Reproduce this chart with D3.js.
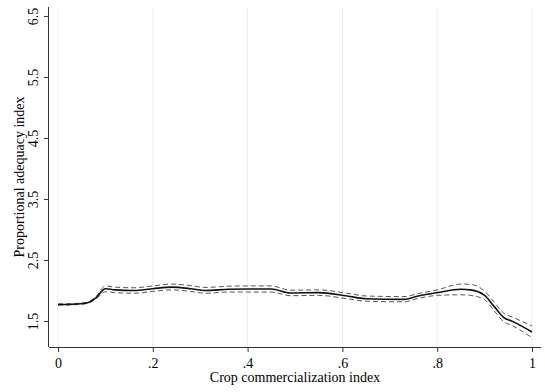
<!DOCTYPE html>
<html>
<head>
<meta charset="utf-8">
<script src="https://cdn.jsdelivr.net/npm/d3@7"></script>
<style>
  html, body { margin: 0; padding: 0; background: #fff; }
  svg { display: block; }
  text { font-family: "Liberation Serif", "Times New Roman", serif; fill: #000; }
</style>
</head>
<body>
<svg id="chart" width="545" height="392"></svg>
<script>
// Commercialization index (x) and fitted adequacy with 95% band
const commIndex = [0.00, 0.03, 0.06, 0.08, 0.10, 0.12, 0.16, 0.20, 0.24, 0.28, 0.31, 0.36, 0.40, 0.45, 0.49, 0.55, 0.61, 0.65, 0.73, 0.76, 0.80, 0.85, 0.87, 0.90, 0.92, 0.94, 0.96, 1.00];
const fitted    = [1.770, 1.775, 1.795, 1.880, 2.030, 2.010, 2.000, 2.030, 2.055, 2.030, 2.000, 2.020, 2.025, 2.025, 1.960, 1.965, 1.910, 1.866, 1.855, 1.910, 1.965, 2.020, 2.010, 1.920, 1.740, 1.560, 1.490, 1.320];
const lowerCI   = [1.760, 1.765, 1.785, 1.860, 1.980, 1.965, 1.955, 1.985, 2.010, 1.985, 1.955, 1.975, 1.975, 1.975, 1.915, 1.920, 1.865, 1.825, 1.815, 1.870, 1.920, 1.930, 1.920, 1.850, 1.670, 1.490, 1.420, 1.225];
const upperCI   = [1.780, 1.785, 1.805, 1.900, 2.075, 2.055, 2.045, 2.075, 2.105, 2.080, 2.050, 2.070, 2.075, 2.075, 2.005, 2.010, 1.955, 1.910, 1.900, 1.950, 2.010, 2.105, 2.100, 1.990, 1.810, 1.630, 1.560, 1.420];

const xTicks = [0, 0.2, 0.4, 0.6, 0.8, 1];
const xTickLabels = ["0", ".2", ".4", ".6", ".8", "1"];
const yTicks = [1.5, 2.5, 3.5, 4.5, 5.5, 6.5];
const yTickLabels = ["1.5", "2.5", "3.5", "4.5", "5.5", "6.5"];

const svg = d3.select("#chart");
const plotLeft = 49, plotRight = 541, plotTop = 7, plotBottom = 347;

const x = d3.scaleLinear().domain([-0.019, 1.019]).range([plotLeft, plotRight]);
const y = d3.scaleLinear().domain([1.074, 6.647]).range([plotBottom, plotTop]);

// vertical grid lines
svg.append("g")
  .selectAll("line")
  .data(xTicks)
  .join("line")
  .attr("x1", d => x(d)).attr("x2", d => x(d))
  .attr("y1", plotTop).attr("y2", plotBottom)
  .attr("stroke", "#e6eff1")
  .attr("stroke-width", 1);

// axes
const xAxis = d3.axisBottom(x).tickValues(xTicks)
  .tickFormat((d, i) => xTickLabels[i]).tickSize(5).tickPadding(6);
const gx = svg.append("g").attr("transform", `translate(0,${plotBottom})`).call(xAxis);
gx.select(".domain").attr("stroke", "#333").attr("d", `M${plotLeft},0.5H${plotRight}`);
gx.selectAll(".tick line").attr("stroke", "#333");
gx.selectAll(".tick text").attr("font-size", 14).attr("font-family", "Liberation Serif");

const yAxis = d3.axisLeft(y).tickValues(yTicks)
  .tickFormat((d, i) => yTickLabels[i]).tickSize(5).tickPadding(4);
const gy = svg.append("g").attr("transform", `translate(${plotLeft},0)`).call(yAxis);
gy.select(".domain").attr("stroke", "#333").attr("d", `M-0.5,${plotTop}V${plotBottom}`);
gy.selectAll(".tick line").attr("stroke", "#333");
gy.selectAll(".tick text")
  .attr("font-size", 14).attr("font-family", "Liberation Serif")
  .attr("text-anchor", "middle")
  .attr("x", null).attr("dy", null)
  .attr("transform", "translate(-11,0) rotate(-90)");

// CI band edges (dashed) and fitted line
const pts = (vals) => commIndex.map((c, i) => [c, vals[i]]);
const line = d3.line().x(d => x(d[0])).y(d => y(d[1])).curve(d3.curveMonotoneX);

[lowerCI, upperCI].forEach(vals => {
  svg.append("path")
    .attr("d", line(pts(vals)))
    .attr("fill", "none")
    .attr("stroke", "#555")
    .attr("stroke-width", 1)
    .attr("stroke-dasharray", "5,3");
});

svg.append("path")
  .attr("d", line(pts(fitted)))
  .attr("fill", "none")
  .attr("stroke", "#111")
  .attr("stroke-width", 1.6);

// axis titles
svg.append("text")
  .attr("x", (plotLeft + plotRight) / 2).attr("y", 382)
  .attr("text-anchor", "middle").attr("font-size", 14)
  .text("Crop commercialization index");

svg.append("text")
  .attr("transform", `translate(24,${(plotTop + plotBottom) / 2}) rotate(-90)`)
  .attr("text-anchor", "middle").attr("font-size", 14)
  .text("Proportional adequacy index");
</script>
</body>
</html>
